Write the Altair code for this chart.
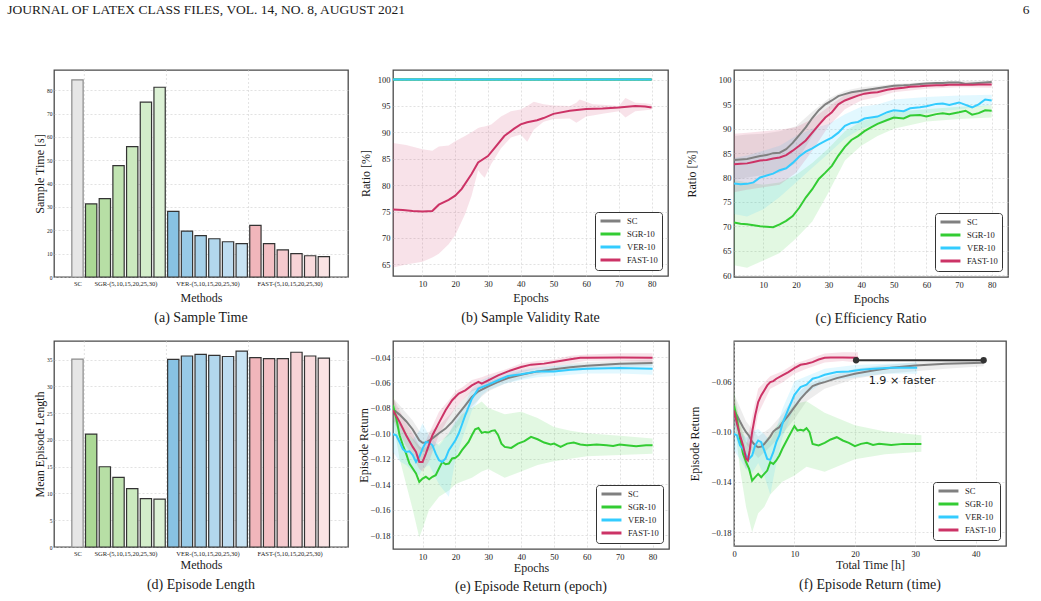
import altair as alt
import pandas as pd

SERIF = "Liberation Serif"
SANS = "DejaVu Sans"
INK = "#1a1a1a"

HEADER_TEXT = "JOURNAL OF LATEX CLASS FILES, VOL. 14, NO. 8, AUGUST 2021"
PAGE_NUMBER = "6"
HEADER_GAP = "\u00a0" * 183

SERIES = ["SC", "SGR-10", "VER-10", "FAST-10"]
SERIES_COLORS = ["#808080", "#33cc33", "#33ccff", "#cc3366"]
COLOR_OF = dict(zip(SERIES, SERIES_COLORS))
BAND_OPACITY = 0.14

# ---------------- bar panels (a) and (d) ----------------
BAR_METHODS = ["SC",
               "SGR-5", "SGR-10", "SGR-15", "SGR-20", "SGR-25", "SGR-30",
               "VER-5", "VER-10", "VER-15", "VER-20", "VER-25", "VER-30",
               "FAST-5", "FAST-10", "FAST-15", "FAST-20", "FAST-25", "FAST-30"]
SAMPLE_TIME = [84.5, 31.3, 33.6, 47.7, 55.9, 74.9, 81.3,
               28.1, 19.7, 17.7, 16.4, 15.1, 14.3,
               22.1, 14.3, 11.6, 10.0, 9.1, 8.7]
EPISODE_LENGTH = [35.1, 21.1, 15.0, 13.0, 10.9, 9.05, 8.95,
                  35.05, 35.7, 36.0, 35.8, 35.6, 36.6,
                  35.4, 35.2, 35.2, 36.4, 35.7, 35.3]
GROUP_LABELS = ["SC", "SGR-(5,10,15,20,25,30)", "VER-(5,10,15,20,25,30)", "FAST-(5,10,15,20,25,30)"]
GROUP_CENTERS = [0, 3.5, 9.5, 15.5]
GROUP_BOUNDARIES = [0.5, 6.5, 12.5]
BAR_FILLS = ["#e6e6e6",
             "#abd995", "#b7dfa5", "#c1e4b2", "#cbe9bf", "#d3edca", "#dcf1d5",
             "#88c2e3", "#98cae7", "#a6d1ea", "#b2d7ed", "#bddcf0", "#c8e3f3",
             "#f1b6bb", "#f3c0c4", "#f5cace", "#f7d3d6", "#f8dbdd", "#fae3e4"]
BAR_EDGES = ["#8a8a8a"] + ["#333333"] * 18
A_YTICKS = [0, 10, 20, 30, 40, 50, 60, 70, 80]
D_YTICKS = [0, 5, 10, 15, 20, 25, 30, 35]

# ---------------- (b) sample validity rate ----------------
B_FLAT_X = [1, 80]
B_FLAT_Y = [100, 100]
B_FAST_X = [1, 4, 7, 10, 13, 15, 18, 20, 22, 25, 27, 30, 32, 35, 38, 40, 42, 45, 47, 50, 55, 60, 65, 70, 75, 78, 80]
B_FAST_Y = [75.4, 75.3, 75.1, 75.0, 75.1, 76.3, 77.2, 78.0, 79.3, 82.1, 84.3, 85.5, 87.0, 89.3, 90.7, 91.5,
            91.9, 92.3, 92.7, 93.5, 94.1, 94.4, 94.5, 94.7, 95.0, 94.9, 94.7]
B_BAND_X = [1, 5, 10, 13, 15, 18, 20, 23, 25, 27, 28, 29, 31, 34, 37, 40, 42, 44, 47, 50, 55, 57, 58, 60, 62,
            65, 70, 72, 75, 78, 80]
B_BAND_HI = [88.0, 87.6, 86.8, 86.5, 87.3, 87.5, 88.3, 89.3, 90.0, 90.8, 91.0, 91.1, 91.5, 93.0, 94.0, 94.3,
             95.0, 95.8, 95.3, 95.1, 95.0, 95.6, 96.2, 95.8, 95.3, 95.2, 95.0, 96.5, 95.6, 95.5, 95.3]
B_BAND_LO = [64.4, 65.0, 65.5, 66.3, 67.0, 68.8, 70.5, 74.5, 78.0, 82.8, 82.0, 81.4, 84.0, 87.0, 89.0, 89.6,
             88.2, 90.5, 92.0, 92.5, 92.6, 91.8, 92.2, 93.0, 93.2, 93.5, 94.0, 92.8, 94.0, 94.2, 94.3]

# ---------------- (c) efficiency ratio ----------------
C_X = [1, 3, 5, 7, 9, 11, 13, 15, 17, 19, 21, 23, 25, 27, 29, 31, 33, 35, 37, 39, 41, 43, 45, 48, 50, 53, 55,
       58, 60, 63, 65, 67, 70, 72, 74, 76, 78, 80]
C_SC = [83.6, 83.7, 83.8, 84.1, 84.4, 84.6, 85.0, 85.1, 85.8, 87.1, 88.7, 90.3, 92.2, 93.8, 95.0, 95.8, 96.7,
        97.1, 97.5, 97.7, 97.9, 98.1, 98.3, 98.6, 98.8, 98.9, 99.0, 99.2, 99.3, 99.4, 99.4, 99.5, 99.5, 99.2,
        99.3, 99.4, 99.5, 99.6]
C_SGR = [70.8, 70.5, 70.4, 70.2, 70.0, 69.9, 69.8, 70.4, 71.1, 72.1, 73.8, 75.9, 77.6, 79.7, 81.0, 82.4, 84.5,
         86.3, 87.7, 88.5, 89.5, 90.3, 91.0, 91.8, 92.3, 92.1, 92.7, 92.8, 92.5, 93.0, 93.2, 93.0, 93.4, 93.7,
         92.9, 93.2, 93.8, 93.7]
C_VER = [78.8, 78.6, 78.7, 79.0, 80.0, 80.4, 80.8, 81.5, 81.9, 83.0, 84.3, 85.3, 86.0, 86.8, 87.5, 88.2, 89.2,
         90.6, 91.2, 91.4, 92.1, 92.3, 92.5, 93.4, 93.8, 93.6, 94.2, 94.4, 94.6, 95.1, 95.2, 94.9, 95.4, 94.9,
         94.4, 95.0, 96.0, 95.8]
C_FAST = [82.7, 82.8, 82.9, 83.2, 83.5, 83.6, 83.9, 84.1, 84.6, 85.5, 86.5, 87.6, 89.2, 90.8, 92.3, 93.4, 95.0,
          95.8, 96.3, 96.8, 97.2, 97.4, 97.5, 98.0, 98.2, 98.4, 98.6, 98.7, 98.8, 98.9, 98.9, 99.0, 99.0, 99.0,
          99.0, 99.1, 99.1, 99.1]
C_BAND_X = [1, 5, 10, 15, 20, 25, 30, 35, 40, 45, 50, 60, 70, 80]
C_SC_HI = [88.5, 88.8, 89.0, 89.5, 90.5, 93.5, 96.2, 97.8, 98.5, 98.8, 99.2, 99.6, 99.8, 99.9]
C_SC_LO = [79.5, 80.0, 80.5, 81.0, 83.0, 88.5, 93.5, 96.0, 97.0, 97.6, 98.3, 98.9, 99.2, 99.3]
C_SGR_HI = [79.5, 79.0, 78.5, 79.0, 80.5, 83.0, 86.0, 89.5, 91.5, 92.5, 93.5, 94.0, 94.5, 94.8]
C_SGR_LO = [62.0, 61.5, 63.0, 64.5, 67.5, 71.0, 77.0, 83.5, 86.5, 88.5, 90.0, 91.5, 92.0, 92.3]
C_VER_HI = [84.0, 84.5, 85.5, 86.5, 88.5, 90.0, 91.0, 93.0, 94.5, 95.0, 96.0, 96.5, 96.8, 97.0]
C_VER_LO = [72.5, 72.0, 73.5, 76.0, 79.0, 82.0, 85.0, 88.0, 90.0, 91.0, 92.0, 93.2, 94.0, 94.8]
C_FAST_HI = [89.0, 89.2, 89.5, 89.8, 90.3, 92.0, 94.5, 97.0, 98.0, 98.3, 98.8, 99.3, 99.5, 99.6]
C_FAST_LO = [77.0, 77.5, 78.0, 78.5, 81.0, 85.5, 90.5, 94.0, 95.8, 96.5, 97.5, 98.2, 98.5, 98.4]

# ---------------- (e) episode return vs epoch ----------------
E_SC_X = [1, 3, 5, 7, 9, 10, 11, 13, 15, 17, 19, 21, 23, 25, 27, 30, 33, 36, 40, 45, 50, 55, 60, 65, 70, 80]
E_SC_Y = [-0.0811, -0.0853, -0.0905, -0.097, -0.1055, -0.1075, -0.1073, -0.104, -0.100, -0.0963, -0.091,
          -0.0845, -0.078, -0.0714, -0.067, -0.063, -0.0596, -0.0565, -0.0539, -0.0513, -0.0497, -0.0481,
          -0.0468, -0.046, -0.0452, -0.0447]
E_SGR_X = [1, 2, 3, 4, 5, 6, 7, 8, 9, 10, 11, 12, 13, 14, 15, 16, 17, 18, 19, 20, 21, 22, 24, 25, 26, 27, 28,
           29, 30, 31, 32, 33, 34, 35, 37, 39, 41, 43, 45, 47, 49, 50, 52, 54, 56, 58, 60, 63, 66, 68, 70, 72,
           75, 78, 80]
E_SGR_Y = [-0.078, -0.0884, -0.1015, -0.1094, -0.116, -0.1238, -0.1277, -0.1316, -0.1382, -0.1356, -0.1342,
           -0.1361, -0.1342, -0.1329, -0.1277, -0.1225, -0.1243, -0.1238, -0.1198, -0.1193, -0.1172, -0.1133,
           -0.1068, -0.1015, -0.0968, -0.0958, -0.0997, -0.0989, -0.0994, -0.0981, -0.0976, -0.1015, -0.1081,
           -0.1107, -0.1115, -0.1081, -0.1062, -0.1028, -0.1047, -0.1073, -0.1088, -0.1081, -0.1107, -0.1081,
           -0.1073, -0.1088, -0.1094, -0.1088, -0.1094, -0.1099, -0.1088, -0.1094, -0.1102, -0.1094, -0.1094]
E_VER_X = [1, 2, 3, 4, 5, 6, 7, 8, 9, 10, 11, 12, 13, 14, 15, 16, 17, 18, 20, 21, 23, 25, 27, 30, 33, 36, 40,
           45, 50, 55, 60, 70, 80]
E_VER_Y = [-0.1007, -0.1015, -0.1068, -0.1125, -0.1146, -0.1141, -0.1172, -0.1225, -0.1185, -0.112, -0.1068,
           -0.1073, -0.1094, -0.116, -0.1212, -0.1225, -0.1198, -0.1133, -0.1055, -0.1002, -0.0858, -0.0727,
           -0.0649, -0.0617, -0.0583, -0.0549, -0.0536, -0.0513, -0.0513, -0.05, -0.0492, -0.0486, -0.0492]
E_FAST_X = [1, 3, 5, 7, 8, 9, 10, 11, 13, 15, 17, 19, 21, 23, 25, 27, 28, 30, 33, 36, 40, 43, 47, 50, 55, 58,
            60, 70, 80]
E_FAST_Y = [-0.0819, -0.091, -0.1015, -0.1107, -0.1146, -0.1225, -0.1225, -0.116, -0.1015, -0.0916, -0.0819,
            -0.074, -0.0688, -0.0662, -0.0623, -0.0596, -0.061, -0.0583, -0.0544, -0.0513, -0.0479, -0.046,
            -0.0452, -0.0439, -0.0418, -0.0405, -0.0405, -0.0403, -0.0405]
E_BAND_X = [1, 3, 5, 7, 9, 10, 12, 15, 18, 20, 22, 25, 28, 30, 35, 40, 45, 50, 55, 60, 70, 80]
E_SC_HI = [-0.072, -0.078, -0.084, -0.090, -0.098, -0.100, -0.099, -0.094, -0.086, -0.080, -0.074, -0.066,
           -0.062, -0.059, -0.055, -0.051, -0.049, -0.047, -0.045, -0.044, -0.043, -0.042]
E_SC_LO = [-0.090, -0.094, -0.098, -0.105, -0.113, -0.115, -0.114, -0.107, -0.102, -0.097, -0.091, -0.079,
           -0.071, -0.067, -0.061, -0.057, -0.054, -0.052, -0.051, -0.050, -0.048, -0.047]
E_SGR_HI = [-0.070, -0.090, -0.098, -0.104, -0.110, -0.112, -0.110, -0.108, -0.100, -0.092, -0.085, -0.080,
            -0.075, -0.080, -0.085, -0.083, -0.088, -0.095, -0.098, -0.100, -0.102, -0.104]
E_SGR_LO = [-0.090, -0.120, -0.140, -0.160, -0.182, -0.175, -0.160, -0.150, -0.145, -0.140, -0.138, -0.135,
            -0.130, -0.128, -0.135, -0.130, -0.125, -0.122, -0.120, -0.118, -0.117, -0.116]
E_VER_HI = [-0.085, -0.092, -0.100, -0.105, -0.098, -0.092, -0.102, -0.110, -0.100, -0.090, -0.082, -0.065,
            -0.058, -0.056, -0.052, -0.050, -0.048, -0.047, -0.046, -0.046, -0.045, -0.045]
E_VER_LO = [-0.115, -0.122, -0.125, -0.130, -0.133, -0.128, -0.125, -0.140, -0.150, -0.120, -0.105, -0.082,
            -0.070, -0.066, -0.061, -0.058, -0.056, -0.055, -0.054, -0.053, -0.053, -0.054]
E_FAST_HI = [-0.072, -0.082, -0.092, -0.100, -0.110, -0.112, -0.100, -0.083, -0.074, -0.067, -0.064, -0.058,
             -0.056, -0.054, -0.050, -0.045, -0.043, -0.042, -0.039, -0.038, -0.037, -0.037]
E_FAST_LO = [-0.090, -0.100, -0.110, -0.118, -0.128, -0.130, -0.122, -0.101, -0.088, -0.080, -0.074, -0.067,
             -0.064, -0.061, -0.057, -0.052, -0.049, -0.047, -0.045, -0.043, -0.043, -0.044]

# ---------------- (f) episode return vs total time ----------------
F_SC_T = [0, 0.5, 1, 1.5, 2, 2.5, 3, 3.5, 4, 4.5, 5, 5.5, 6, 6.5, 7, 7.5, 8, 9, 10, 11, 12, 13, 14, 15, 17, 20,
          23, 26, 30, 35, 41.3]
F_SC_Y = [-0.0832, -0.0872, -0.092, -0.0965, -0.1005, -0.1035, -0.108, -0.111, -0.1125, -0.112, -0.110,
          -0.107, -0.104, -0.100, -0.098, -0.0965, -0.0931, -0.0872, -0.0806, -0.074, -0.0687, -0.0639, -0.062,
          -0.0607, -0.0575, -0.0541, -0.0514, -0.0493, -0.0474, -0.0461, -0.0453]
F_SGR_T = [0, 0.5, 1, 1.5, 2, 2.5, 3, 3.5, 4, 4.5, 5, 5.5, 6, 6.5, 7, 7.5, 8, 9, 10, 10.5, 11, 11.5, 12, 12.5,
           13, 14, 15, 16, 17, 18, 19, 20, 21, 22, 23, 24, 26, 28, 31]
F_SGR_Y = [-0.0793, -0.0899, -0.1058, -0.1177, -0.1244, -0.1297, -0.139, -0.1363, -0.1337, -0.1363, -0.1337,
           -0.131, -0.1244, -0.1257, -0.123, -0.119, -0.1137, -0.1045, -0.0957, -0.0992, -0.0986, -0.0992,
           -0.0973, -0.1005, -0.1098, -0.1111, -0.109, -0.1063, -0.1045, -0.1071, -0.109, -0.1116, -0.1098,
           -0.109, -0.1106, -0.1098, -0.1106, -0.1098, -0.1098]
F_VER_T = [0, 0.5, 1, 1.5, 2, 2.5, 3, 3.5, 4, 4.5, 5, 5.5, 6, 6.5, 7, 7.5, 8, 9, 10, 11, 12, 13, 14, 15, 17, 19,
           21, 23, 26, 30.3]
F_VER_Y = [-0.1018, -0.1031, -0.111, -0.1137, -0.119, -0.1217, -0.119, -0.111, -0.1071, -0.1084, -0.115,
           -0.1217, -0.1225, -0.1164, -0.1084, -0.1031, -0.0939, -0.0819, -0.0708, -0.0647, -0.0628, -0.058,
           -0.0567, -0.0549, -0.0527, -0.0522, -0.0509, -0.0501, -0.0493, -0.0493]
F_FAST_T = [0, 0.5, 1, 1.5, 2, 2.3, 2.6, 3, 3.5, 4, 4.5, 5, 5.5, 6, 6.5, 7, 8, 9, 10, 11, 12, 13, 14, 15, 16,
            18, 20.5]
F_FAST_Y = [-0.0832, -0.0939, -0.1031, -0.111, -0.1217, -0.123, -0.115, -0.1005, -0.0872, -0.0766, -0.0713,
            -0.0673, -0.0633, -0.0607, -0.0599, -0.058, -0.0554, -0.0527, -0.0496, -0.0469, -0.0461, -0.0448,
            -0.0427, -0.0413, -0.0411, -0.0411, -0.0413]
F_SC_BAND_T = [0, 2, 4, 6, 8, 10, 12, 15, 20, 25, 30, 35, 41.3]
F_SC_HI = [-0.070, -0.092, -0.104, -0.097, -0.086, -0.072, -0.063, -0.057, -0.050, -0.047, -0.045, -0.044, -0.043]
F_SC_LO = [-0.094, -0.110, -0.121, -0.112, -0.102, -0.090, -0.076, -0.066, -0.058, -0.054, -0.052, -0.050, -0.048]
F_SGR_BAND_T = [0, 1, 2, 3, 4, 5, 6, 8, 10, 12, 15, 20, 25, 31]
F_SGR_HI = [-0.068, -0.092, -0.108, -0.112, -0.110, -0.108, -0.102, -0.090, -0.078, -0.076, -0.085, -0.095,
            -0.100, -0.103]
F_SGR_LO = [-0.090, -0.130, -0.160, -0.180, -0.165, -0.160, -0.150, -0.140, -0.135, -0.128, -0.132, -0.122,
            -0.118, -0.116]
F_VER_BAND_T = [0, 1, 2, 3, 4, 5, 6, 7, 8, 10, 12, 15, 20, 25, 30.3]
F_VER_HI = [-0.088, -0.100, -0.105, -0.100, -0.098, -0.102, -0.108, -0.098, -0.082, -0.060, -0.056, -0.050,
            -0.047, -0.046, -0.045]
F_VER_LO = [-0.115, -0.122, -0.130, -0.133, -0.125, -0.135, -0.150, -0.125, -0.105, -0.080, -0.070, -0.060,
            -0.057, -0.054, -0.054]
F_FAST_BAND_T = [0, 1, 2, 3, 4, 6, 8, 10, 12, 15, 18, 20.5]
F_FAST_HI = [-0.072, -0.095, -0.112, -0.088, -0.066, -0.056, -0.052, -0.046, -0.043, -0.038, -0.037, -0.037]
F_FAST_LO = [-0.092, -0.112, -0.130, -0.112, -0.086, -0.066, -0.061, -0.054, -0.050, -0.045, -0.044, -0.045]

ANNOT_T = [20.2, 41.3]
ANNOT_Y = [-0.0433, -0.0433]
ANNOT_LABEL = "1.9 × faster"
ANNOT_LABEL_T = 27.8
ANNOT_LABEL_Y = -0.0602

EPOCH_TICKS = [10, 20, 30, 40, 50, 60, 70, 80]
TIME_TICKS = [0, 10, 20, 30, 40]
B_YTICKS = [65, 70, 75, 80, 85, 90, 95, 100]
C_YTICKS = [60, 65, 70, 75, 80, 85, 90, 95, 100]
RET_YTICKS = [-0.18, -0.16, -0.14, -0.12, -0.10, -0.08, -0.06, -0.04]

COLOR_SCALE = alt.Scale(domain=SERIES, range=SERIES_COLORS)


def make_legend():
    return alt.Legend(title=None, orient="bottom-right", offset=6, padding=4,
                      strokeColor="#333333", cornerRadius=3, fillColor="white",
                      symbolType="M-1,0H4.7", symbolSize=49, symbolStrokeWidth=3,
                      labelFont=SERIF, labelFontSize=8.5, labelColor=INK,
                      labelOffset=18, rowPadding=1)


def caption_title(text, offset):
    return alt.TitleParams(text=text, orient="bottom", anchor="middle", frame="group", offset=offset,
                           font=SERIF, fontSize=14, fontWeight="normal", color=INK)


def spacer_layer(width, extra):
    return alt.Chart(pd.DataFrame({"k": [0]})).mark_rule(strokeOpacity=0, strokeWidth=1).encode(
        x=alt.value(width + extra), y=alt.value(0), y2=alt.value(1))


def line_panel(bands, lines, xdom, ydom, xvals, yvals, yfmt, xtitle, ytitle, caption,
               width, height, y_tp, x_tp, cap_offset, spacer=0, extra=()):
    xs = alt.Scale(domain=xdom, nice=False, zero=False)
    ys = alt.Scale(domain=ydom, nice=False, zero=False)
    xaxis = alt.Axis(values=xvals, format="d", title=xtitle, titlePadding=x_tp, grid=True,
                     labelFlush=False, labelOverlap=False)
    yaxis = alt.Axis(values=yvals, format=yfmt, title=ytitle, titlePadding=y_tp, grid=True,
                     labelFlush=False, labelOverlap=False)
    layers = []
    for name, bx, lo, hi in bands:
        df = pd.DataFrame({"x": bx, "lo": lo, "hi": hi})
        layers.append(alt.Chart(df).mark_area(color=COLOR_OF[name], opacity=BAND_OPACITY, clip=True).encode(
            x=alt.X("x:Q", scale=xs, axis=xaxis),
            y=alt.Y("lo:Q", scale=ys, axis=yaxis),
            y2="hi:Q"))
    for name, lx, ly in lines:
        df = pd.DataFrame({"series": name, "x": lx, "y": ly})
        layers.append(alt.Chart(df).mark_line(strokeWidth=2, clip=True).encode(
            x=alt.X("x:Q", scale=xs, axis=xaxis),
            y=alt.Y("y:Q", scale=ys, axis=yaxis),
            color=alt.Color("series:N", scale=COLOR_SCALE, legend=make_legend())))
    layers.extend(extra)
    if spacer:
        layers.append(spacer_layer(width, spacer))
    return alt.layer(*layers).properties(width=width, height=height,
                                         title=caption_title(caption, cap_offset))


def group_label_expr():
    expr = "''"
    for pos, lab in reversed(list(zip(GROUP_CENTERS, GROUP_LABELS))):
        expr = f"datum.value == {pos} ? '{lab}' : ({expr})"
    return expr


def bar_panel(values, ymax, yvals, ytitle, caption, width, height, y_tp, x_tp, cap_offset):
    df = pd.DataFrame({"pos": list(range(len(BAR_METHODS))), "method": BAR_METHODS, "value": values})
    xs = alt.Scale(domain=[-1.35, 19.4], nice=False, zero=False)
    xaxis = alt.Axis(values=GROUP_CENTERS, labelExpr=group_label_expr(), title="Methods", titlePadding=x_tp,
                     grid=False, labelFontSize=6.5, labelFlush=False, labelOverlap=False)
    yaxis = alt.Axis(values=yvals, title=ytitle, titlePadding=y_tp, grid=True, labelFontSize=5.5,
                     labelPadding=2, labelFlush=False, labelOverlap=False)
    sep = alt.Chart(pd.DataFrame({"b": GROUP_BOUNDARIES})).mark_rule(
        color="#cfcfcf", strokeDash=[2, 2], strokeWidth=0.6).encode(x=alt.X("b:Q", scale=xs, axis=xaxis))
    bars = alt.Chart(df).mark_bar(size=11.3, strokeWidth=1.2).encode(
        x=alt.X("pos:Q", scale=xs, axis=xaxis),
        y=alt.Y("value:Q", scale=alt.Scale(domain=[0, ymax], nice=False), axis=yaxis),
        fill=alt.Fill("method:N", scale=alt.Scale(domain=BAR_METHODS, range=BAR_FILLS), legend=None),
        stroke=alt.Stroke("method:N", scale=alt.Scale(domain=BAR_METHODS, range=BAR_EDGES), legend=None))
    return alt.layer(sep, bars).properties(width=width, height=height,
                                           title=caption_title(caption, cap_offset))


panel_a = bar_panel(SAMPLE_TIME, 88.7, A_YTICKS, "Sample Time [s]", "(a) Sample Time",
                    294, 207, 0, 5.5, 8)
panel_d = bar_panel(EPISODE_LENGTH, 38.5, D_YTICKS, "Mean Episode Length", "(d) Episode Length",
                    294, 206, 0, 2.5, 8)

panel_b = line_panel(
    bands=[("FAST-10", B_BAND_X, B_BAND_LO, B_BAND_HI)],
    lines=[("SC", B_FLAT_X, B_FLAT_Y), ("SGR-10", B_FLAT_X, B_FLAT_Y), ("VER-10", B_FLAT_X, B_FLAT_Y),
           ("FAST-10", B_FAST_X, B_FAST_Y)],
    xdom=[1, 85], ydom=[62.8, 101.8], xvals=EPOCH_TICKS, yvals=B_YTICKS, yfmt="d",
    xtitle="Epochs", ytitle="Ratio [%]", caption="(b) Sample Validity Rate",
    width=275, height=206, y_tp=5, x_tp=4.5, cap_offset=8, spacer=7)

panel_c = line_panel(
    bands=[("SC", C_BAND_X, C_SC_LO, C_SC_HI), ("SGR-10", C_BAND_X, C_SGR_LO, C_SGR_HI),
           ("VER-10", C_BAND_X, C_VER_LO, C_VER_HI), ("FAST-10", C_BAND_X, C_FAST_LO, C_FAST_HI)],
    lines=[("SC", C_X, C_SC), ("SGR-10", C_X, C_SGR), ("VER-10", C_X, C_VER), ("FAST-10", C_X, C_FAST)],
    xdom=[1, 85], ydom=[59.6, 102.05], xvals=EPOCH_TICKS, yvals=C_YTICKS, yfmt="d",
    xtitle="Epochs", ytitle="Ratio [%]", caption="(c) Efficiency Ratio",
    width=274, height=207, y_tp=20, x_tp=4.5, cap_offset=8)

panel_e = line_panel(
    bands=[("SC", E_BAND_X, E_SC_LO, E_SC_HI), ("SGR-10", E_BAND_X, E_SGR_LO, E_SGR_HI),
           ("VER-10", E_BAND_X, E_VER_LO, E_VER_HI), ("FAST-10", E_BAND_X, E_FAST_LO, E_FAST_HI)],
    lines=[("SC", E_SC_X, E_SC_Y), ("SGR-10", E_SGR_X, E_SGR_Y), ("VER-10", E_VER_X, E_VER_Y),
           ("FAST-10", E_FAST_X, E_FAST_Y)],
    xdom=[1, 85], ydom=[-0.191, -0.0274], xvals=EPOCH_TICKS, yvals=RET_YTICKS, yfmt=".2f",
    xtitle="Epochs", ytitle="Episode Return", caption="(e) Episode Return (epoch)",
    width=276, height=208, y_tp=0, x_tp=1.5, cap_offset=6.5, spacer=7)

annot_df = pd.DataFrame({"t": ANNOT_T, "y": ANNOT_Y})
f_xs = alt.Scale(domain=[0, 45], nice=False, zero=False)
f_ys = alt.Scale(domain=[-0.191, -0.028], nice=False, zero=False)
annot_line = alt.Chart(annot_df).mark_line(color="#333333", strokeWidth=2).encode(
    x=alt.X("t:Q", scale=f_xs), y=alt.Y("y:Q", scale=f_ys))
annot_dots = alt.Chart(annot_df).mark_point(filled=True, color="#333333", size=40, opacity=1).encode(
    x=alt.X("t:Q", scale=f_xs), y=alt.Y("y:Q", scale=f_ys))
annot_text = alt.Chart(pd.DataFrame({"t": [ANNOT_LABEL_T], "y": [ANNOT_LABEL_Y], "s": [ANNOT_LABEL]})).mark_text(
    font=SANS, fontSize=11.2, color=INK).encode(
    x=alt.X("t:Q", scale=f_xs), y=alt.Y("y:Q", scale=f_ys), text="s:N")

panel_f = line_panel(
    bands=[("SC", F_SC_BAND_T, F_SC_LO, F_SC_HI), ("SGR-10", F_SGR_BAND_T, F_SGR_LO, F_SGR_HI),
           ("VER-10", F_VER_BAND_T, F_VER_LO, F_VER_HI), ("FAST-10", F_FAST_BAND_T, F_FAST_LO, F_FAST_HI)],
    lines=[("SC", F_SC_T, F_SC_Y), ("SGR-10", F_SGR_T, F_SGR_Y), ("VER-10", F_VER_T, F_VER_Y),
           ("FAST-10", F_FAST_T, F_FAST_Y)],
    xdom=[0, 45], ydom=[-0.191, -0.028], xvals=TIME_TICKS, yvals=RET_YTICKS, yfmt=".2f",
    xtitle="Total Time [h]", ytitle="Episode Return", caption="(f) Episode Return (time)",
    width=272, height=205, y_tp=10, x_tp=1.5, cap_offset=8,
    extra=[annot_line, annot_dots, annot_text])

chart = alt.concat(panel_a, panel_b, panel_c, panel_d, panel_e, panel_f, columns=3,
                   spacing={"row": 13, "column": 7}, align="each", bounds="full")
chart = chart.resolve_scale(color="independent", fill="independent", stroke="independent")
chart = chart.resolve_legend(color="independent")
chart = chart.properties(
    title=alt.TitleParams(HEADER_TEXT + HEADER_GAP + PAGE_NUMBER, anchor="start", font=SERIF, fontSize=13.5,
                          fontWeight="normal", color=INK, dx=-25.5, offset=53),
    padding={"left": 7, "top": 2, "right": 0, "bottom": 0})
chart = chart.configure_axis(
    labelFont=SERIF, labelFontSize=8.5, labelColor=INK, titleFont=SERIF, titleFontSize=12,
    titleFontWeight="normal", titleColor=INK, gridColor="#cfcfcf", gridDash=[2, 2], gridWidth=0.6,
    domain=False, ticks=False, labelPadding=3
).configure_view(stroke="#4a4a4a", strokeWidth=1.3)

chart.save("out.html", embed_options={"renderer": "svg", "actions": False})
